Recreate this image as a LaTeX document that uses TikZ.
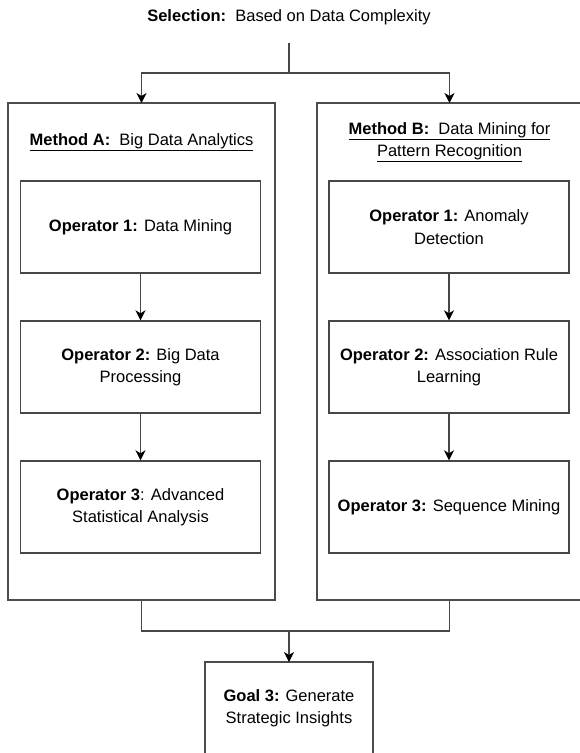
\documentclass[tikz,border=0pt]{standalone}
\usepackage{fontspec}
\setmainfont{Liberation Sans}
\usetikzlibrary{arrows.meta,positioning}
\tikzset{
  wire/.style={draw=black!72, line width=1.4pt},
  flow/.style={wire, -{Stealth[length=10pt,width=10pt,inset=3pt,color=black]}},
  panel/.style={draw=black!70, line width=1.4pt, fill=white},
  opbox/.style={draw=black!72, line width=1.4pt, fill=white, minimum width=240pt,
    minimum height=92pt, align=center, inner sep=0pt,
    font=\fontsize{16.5}{22.5}\selectfont},
  label/.style={align=center, inner sep=0pt, font=\fontsize{16.5}{22.5}\selectfont},
}
\begin{document}
\begin{tikzpicture}[x=1pt,y=-1pt]
\useasboundingbox[fill=white] (0,0) rectangle (579,753);

% heading
\node[label] (sel) at (289,17) {\textbf{Selection:}\ \ Based on Data Complexity};
\coordinate (selfoot) at (289,43);
\coordinate (split) at (289,73);

% the two method panels
\path[panel] (8,103) rectangle (275,600);
\path[panel] (317,103) rectangle (582,600);
\node (pA) at (141.5,103) {};
\node (pB) at (449.5,103) {};
\coordinate (pAfoot) at (141.5,600);
\coordinate (pBfoot) at (449.5,600);

\node[label] (hA) at (141.5,142) {\underline{\textbf{Method A:}\ \ Big Data Analytics}};
\node[label] (hB) at (449.5,142) {\underline{\textbf{Method B:}\ \ Data Mining for}\\\underline{Pattern Recognition}};

% operators, method A
\node[opbox] (a1) at (140.5,227) {\textbf{Operator 1:} Data Mining};
\node[opbox] (a2) at (140.5,367) {\textbf{Operator 2:} Big Data\\Processing};
\node[opbox] (a3) at (140.5,507) {\textbf{Operator 3}: Advanced\\Statistical Analysis};

% operators, method B
\node[opbox] (b1) at (449,227) {\textbf{Operator 1:} Anomaly\\Detection};
\node[opbox] (b2) at (449,367) {\textbf{Operator 2:} Association Rule\\Learning};
\node[opbox] (b3) at (449,507) {\textbf{Operator 3:} Sequence Mining};

% goal
\path[panel] (205,662) rectangle (373,757);
\node (goal) at (289,662) {};
\node[label] (gtext) at (289,708) {\textbf{Goal 3:} Generate\\Strategic Insights};

% connectors
\draw[wire] (selfoot) -- (split);
\draw[flow] (split) -| (pA.center);
\draw[flow] (split) -| (pB.center);

\draw[flow] (a1.south) -- (a2.north);
\draw[flow] (a2.south) -- (a3.north);
\draw[flow] (b1.south) -- (b2.north);
\draw[flow] (b2.south) -- (b3.north);

\coordinate (join) at (289,631);
\draw[wire] (pAfoot) |- (join) -| (pBfoot);
\draw[flow] (join) -- (goal.center);
\end{tikzpicture}
\end{document}
